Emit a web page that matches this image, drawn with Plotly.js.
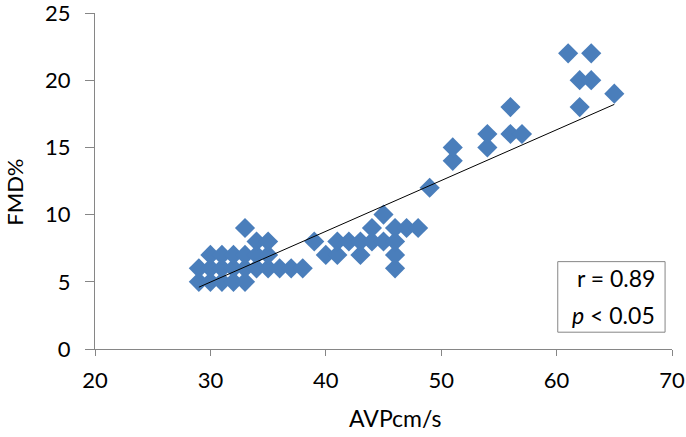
<!DOCTYPE html>
<html>
<head>
<meta charset="utf-8">
<script src="https://cdn.plot.ly/plotly-3.0.1.min.js"></script>
<style>html,body{margin:0;padding:0;background:#fff;}#chart{width:686px;height:437px;}</style>
</head>
<body>
<div id="chart"></div>
<script>
// AVP (cm/s) values
const avp = [29,30,31,32,33,
  29,30,31,32,33,34,35,36,37,38,
  30,31,32,33,34,35,
  34,35,
  33,
  39,40,41,41,42,43,43,44,44,45,45,46,46,46,46,47,48,
  49,51,51,54,54,56,56,57,
  61,62,62,63,63,65];
// FMD (%) values
const fmd = [5,5,5,5,5,
  6,6,6,6,6,6,6,6,6,6,
  7,7,7,7,7,7,
  8,8,
  9,
  8,7,7,8,8,7,8,8,9,8,10,6,7,8,9,9,9,
  12,14,15,15,16,16,18,16,
  22,18,20,20,22,19];
// trend line end points
const trendX = [29, 65];
const trendY = [4.6, 18.2];
const xTicks = [20,30,40,50,60,70];
const yTicks = [0,5,10,15,20,25];
const xTitle = 'AVPcm/s';
const yTitle = 'FMD%';
const statLines = ["r = 0.89", "<i>p</i> < 0.05"];

const font = "Lato, 'Liberation Sans', sans-serif";
const data = [
  {x: avp, y: fmd, type: 'scatter', mode: 'markers',
   marker: {symbol: 'diamond', size: 15.5, color: '#4a7ebb', line: {width: 0}}},
  {x: trendX, y: trendY, type: 'scatter', mode: 'lines',
   line: {color: '#000', width: 1}}
];
const layout = {
  width: 686, height: 437,
  margin: {l: 95, r: 14, t: 13, b: 88},
  showlegend: false,
  paper_bgcolor: '#fff', plot_bgcolor: '#fff',
  font: {family: font, size: 22, color: '#000'},
  xaxis: {range: [20, 70], tickvals: xTicks, ticktext: xTicks.map(String),
    showgrid: false, zeroline: false, showline: true, linecolor: '#868686', linewidth: 1,
    ticks: 'outside', ticklen: 6, tickcolor: '#868686', ticklabelstandoff: 6,
    ticklabeloverflow: 'allow',
    tickfont: {family: font, size: 22, color: '#000'}},
  yaxis: {range: [0, 25], tickvals: yTicks, ticktext: yTicks.map(String),
    showgrid: false, zeroline: false, showline: true, linecolor: '#868686', linewidth: 1,
    ticks: 'outside', ticklen: 9, tickcolor: '#868686', ticklabelstandoff: 10,
    ticklabeloverflow: 'allow',
    tickfont: {family: font, size: 22, color: '#000'}},
  shapes: [{type: 'rect', xref: 'paper', yref: 'paper', x0: 0.802, x1: 0.988, y0: 0.05, y1: 0.26,
    line: {color: '#868686', width: 1}, fillcolor: 'rgba(0,0,0,0)'}],
  annotations: [
    {xref: 'paper', yref: 'paper', x: 0.974, y: 0.211, xanchor: 'right', yanchor: 'middle',
     text: statLines[0], showarrow: false, font: {family: font, size: 23, color: '#000'}},
    {xref: 'paper', yref: 'paper', x: 0.974, y: 0.101, xanchor: 'right', yanchor: 'middle',
     text: statLines[1], showarrow: false, font: {family: font, size: 23, color: '#000'}},
    {xref: 'paper', yref: 'paper', x: 0.52, y: -0.206, xanchor: 'center', yanchor: 'middle',
     text: xTitle, showarrow: false, font: {family: font, size: 23, color: '#000'}},
    {xref: 'paper', yref: 'paper', x: -0.141, y: 0.467, xanchor: 'center', yanchor: 'middle',
     textangle: -90, text: yTitle, showarrow: false, font: {family: font, size: 22, color: '#000'}}
  ]
};
Plotly.newPlot('chart', data, layout, {displayModeBar: false, staticPlot: true});
</script>
</body>
</html>
